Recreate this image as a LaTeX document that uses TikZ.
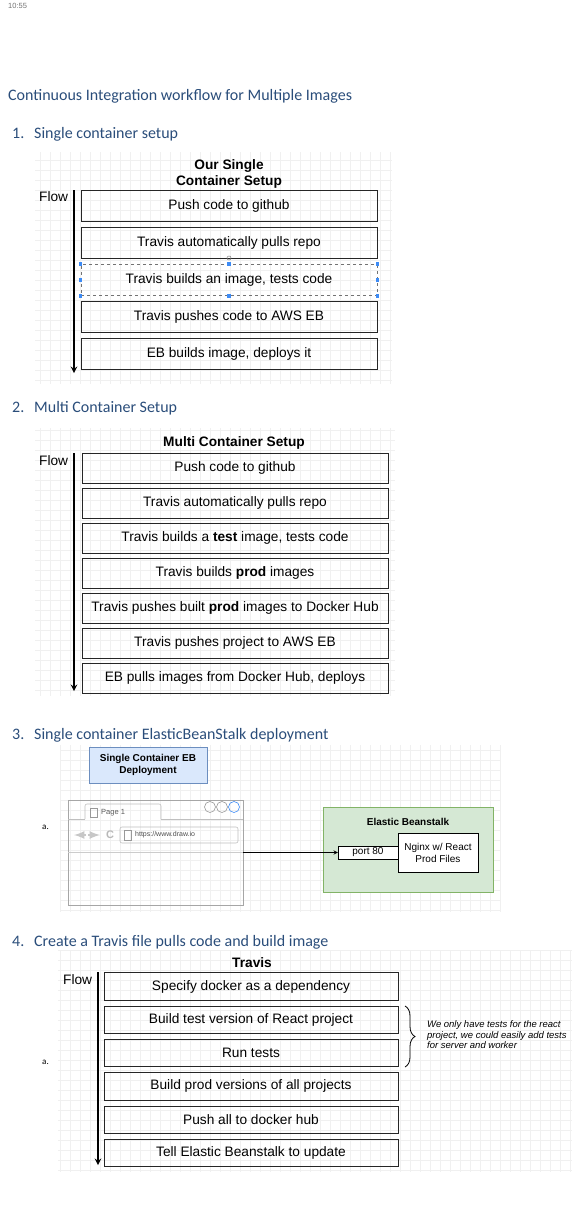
\documentclass[tikz,border=0pt]{standalone}
\usepackage{fontspec}
\setmainfont{Liberation Sans}
\newfontfamily\headfont{Carlito}
\usepackage{xcolor}
\usetikzlibrary{arrows}
\usetikzlibrary{decorations.pathreplacing}

\definecolor{headblue}{HTML}{2A4D7A}
\definecolor{ebfill}{HTML}{D5E8D4}
\definecolor{ebline}{HTML}{82B366}
\definecolor{depfill}{HTML}{DAE8FC}
\definecolor{depline}{HTML}{6C8EBF}
\definecolor{selblue}{HTML}{3D8BF5}

\newcommand{\boxfont}{\fontsize{13.7}{16}\selectfont}
\newcommand{\smallfont}{\fontsize{10}{12}\selectfont}

\begin{document}
\begin{tikzpicture}[x=1pt,y=-1pt,
  heading/.style={anchor=base west,inner sep=0pt,text=headblue,font=\headfont\fontsize{16}{19}\selectfont},
  itemlabel/.style={anchor=west,inner sep=0pt,font=\headfont\fontsize{9}{11}\selectfont},
  flowbox/.style={draw=black!85,line width=0.9pt,inner sep=0pt,font=\boxfont},
  selbox/.style={draw=black!55,dashed,line width=0.6pt,inner sep=0pt,font=\boxfont},
  handle/.style={fill=selblue,inner sep=0pt,minimum size=3.5pt},
  flowlabel/.style={anchor=west,inner sep=0pt,font=\boxfont},
  flowarrow/.style={-stealth,line width=1.8pt},
  boxtitle/.style={inner sep=0pt,align=center,font=\boxfont\bfseries},
  gridlines/.style={draw=black!6,line width=0.3pt},
  smallbox/.style={draw=black,fill=white,inner sep=0pt,align=center,font=\smallfont},
  navarrow/.style={-latex,black!22,line width=2.5pt}]

\useasboundingbox (0,0) rectangle (573,1212);

% background grids
\draw[gridlines] (35,152) grid[step=10pt] (392,384);
\draw[gridlines] (35,428) grid[step=10pt] (395,696);
\draw[gridlines] (60,745) grid[step=10pt] (500,912);
\draw[gridlines] (58,950) grid[step=10pt] (572,1172);

% headings
\node[anchor=north west,inner sep=0pt,text=black!55,font=\fontsize{7.5}{9}\selectfont] (clock) at (8,3) {10:55};
\node[heading] (title) at (8,101) {Continuous Integration workflow for Multiple Images};
\node[heading] (sec1) at (12,139) {\makebox[22pt][l]{1.}Single container setup};
\node[heading] (sec2) at (12,412) {\makebox[22pt][l]{2.}Multi Container Setup};
\node[heading] (sec3) at (12,739) {\makebox[22pt][l]{3.}Single container ElasticBeanStalk deployment};
\node[heading] (sec4) at (12,946) {\makebox[22pt][l]{4.}Create a Travis file pulls code and build image};

% 1. single container
\node[boxtitle] (one-title) at (229,174) {Our Single\\Container Setup};
\node[flowlabel] (one-flow) at (39,197) {Flow};
\foreach \i/\txt in {1/Push code to github, 2/Travis automatically pulls repo,
                     4/Travis pushes code to AWS EB, 5/{EB builds image, deploys it}}
  \node[flowbox,minimum width=296pt,minimum height=31pt] (one-\i) at (229,{205.5+37*(\i-1)}) {\txt};
\node[selbox,minimum width=296pt,minimum height=31pt] (one-3) at (229,280) {Travis builds an image, tests code};
\foreach \a in {north west,north,north east,east,south east,south,south west,west}
  \node[handle] at (one-3.\a) {};
\draw[black!50,line width=0.5pt] (229,258) circle (2pt);
\coordinate (one-top) at (74,190);
\coordinate (one-end) at (74,373);
\draw[flowarrow] (one-top) -- (one-end);

% 2. multi container
\node[boxtitle] (two-title) at (234,443) {Multi Container Setup};
\node[flowlabel] (two-flow) at (39,461) {Flow};
\foreach \txt [count=\i] in {Push code to github, Travis automatically pulls repo,
    {Travis builds a \textbf{test} image, tests code}, Travis builds \textbf{prod} images,
    Travis pushes built \textbf{prod} images to Docker Hub, Travis pushes project to AWS EB,
    {EB pulls images from Docker Hub, deploys}}
  \node[flowbox,minimum width=306pt,minimum height=30pt] (two-\i) at (235,{468+35*(\i-1)}) {\txt};
\coordinate (two-top) at (74,453);
\coordinate (two-end) at (74,691);
\draw[flowarrow] (two-top) -- (two-end);

% 3. elastic beanstalk deployment
\node[fill=depfill,draw=depline,line width=0.8pt,minimum width=118pt,minimum height=36pt,
      align=center,font=\smallfont\bfseries] (deploy) at (148,765) {Single Container EB\\Deployment};
\node[itemlabel] (three-a) at (42,827) {a.};
\node[draw=black!35,line width=0.8pt,minimum width=175pt,minimum height=105pt,inner sep=0pt] (browser) at (155.5,852.5) {};
\draw[black!25,line width=0.6pt] (68,819) -- (85,819) (161,819) -- (243,819);
\draw[black!25,line width=0.6pt,rounded corners=2pt] (85,819) -- (85,804) -- (161,804) -- (161,819);
\draw[black!40,line width=0.5pt] (90,808) rectangle (97,817);
\node[anchor=west,inner sep=0pt,text=black!65,font=\fontsize{7.5}{9}\selectfont] (tab) at (101,812.5) {Page 1};
\foreach \cx in {210,222}
  \draw[black!40,line width=0.6pt] (\cx,807) circle (5.5pt);
\draw[selblue,line width=0.6pt] (234,807) circle (5.5pt);
\draw[navarrow] (86,835) -- (74,835);
\draw[navarrow] (88,835) -- (100,835);
\node[inner sep=0pt,text=black!28,font=\fontsize{11}{12}\selectfont\bfseries] (reload) at (110,835) {C};
\draw[black!25,line width=0.6pt,rounded corners=2pt] (120,827) rectangle (238,843);
\draw[black!40,line width=0.5pt] (124,830) rectangle (131,840);
\node[anchor=west,inner sep=0pt,text=black!70,font=\fontsize{7}{8}\selectfont] (url) at (135,835) {https://www.draw.io};
\draw[black!20,line width=0.6pt] (68,852) -- (243,852);

\node[fill=ebfill,draw=ebline,line width=0.8pt,minimum width=170pt,minimum height=85pt] (eb) at (408,849.5) {};
\node[inner sep=0pt,font=\smallfont\bfseries] (eb-title) at (408,822) {Elastic Beanstalk};
\node[smallbox,minimum width=60pt,minimum height=13pt] (port) at (368,852.5) {port 80};
\node[smallbox,minimum width=80pt,minimum height=39pt] (nginx) at (438,852.5) {Nginx w/ React\\Prod Files};
\draw[-stealth,line width=0.9pt] (browser) -- (port);

% 4. travis file
\node[boxtitle] (four-title) at (252,963) {Travis};
\node[flowlabel] (four-flow) at (63,980) {Flow};
\node[itemlabel] (four-a) at (42,1062) {a.};
\foreach \txt [count=\i] in {Specify docker as a dependency, Build test version of React project,
    Run tests, Build prod versions of all projects, Push all to docker hub,
    Tell Elastic Beanstalk to update}
  \node[flowbox,minimum width=294pt,minimum height=27.5pt] (four-\i) at (251,{986.5+33.3*(\i-1)}) {\txt};
\coordinate (four-top) at (98,972);
\coordinate (four-end) at (98,1165);
\draw[flowarrow] (four-top) -- (four-end);
\coordinate (brace-a) at (405,1006);
\coordinate (brace-b) at (405,1067);
\draw[decorate,decoration={brace,amplitude=10pt},line width=0.8pt] (brace-a) -- (brace-b);
\node[anchor=west,inner sep=0pt,align=left,font=\fontsize{9.5}{10.5}\selectfont\itshape] (note) at (427,1035)
  {We only have tests for the react\\project, we could easily add tests\\for server and worker};

\end{tikzpicture}
\end{document}
